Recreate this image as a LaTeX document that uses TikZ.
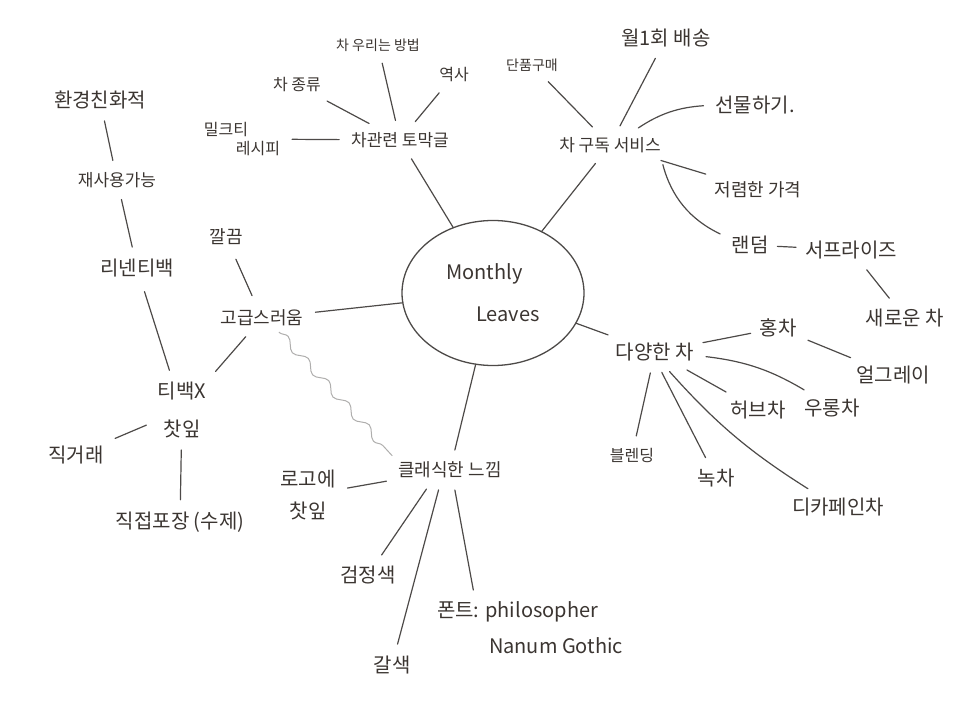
\documentclass[tikz,border=0pt]{standalone}
\usepackage{fontspec}
\setmainfont{Noto Sans CJK KR}
\usetikzlibrary{shapes.geometric,decorations.pathmorphing}
\definecolor{ink}{HTML}{3B3531}
\definecolor{pencil}{HTML}{4D4A48}
\tikzset{
  lbl/.style={font=\fontsize{20}{24}\selectfont, text=ink, inner sep=1pt, outer sep=5pt},
  mid/.style={font=\fontsize{18}{22}\selectfont},
  branch/.style={font=\fontsize{17}{21}\selectfont},
  small/.style={font=\fontsize{16}{19}\selectfont},
  link/.style={draw=pencil, line width=1.2pt, line cap=round,
    shorten <=6pt, shorten >=6pt},
  wave/.style={draw=pencil!45, line width=1pt, decorate,
    decoration={snake, segment length=30pt, amplitude=4pt}},
}
\begin{document}
\begin{tikzpicture}[x=1pt,y=-1pt]
  \useasboundingbox (0,0) rectangle (961,714);
  \node[draw=pencil, line width=1.3pt, ellipse, minimum width=182pt,
    minimum height=145pt, outer sep=0pt] (hub) at (493,293) {};
  \node[lbl, font=\fontsize{20}{42}\selectfont, align=left] (hubtext)
    at (hub.center) {Monthly\\\hspace*{1.5em}Leaves};
  \path[every node/.style=lbl]
    (400,140) node[branch] (topics){차관련 토막글}
    (242,139) node[small, align=left] (recipe){밀크티\\\hspace*{2em}레시피}
    (297,85) node[small] (kinds){차 종류}
    (378,45) node[small, font=\fontsize{14}{17}\selectfont] (brew){차 우리는 방법}
    (454,75) node[small] (history){역사}
    (610,145) node[branch] (subs){차 구독 서비스}
    (532,65) node[small, font=\fontsize{14}{17}\selectfont] (single){단품구매}
    (666,38) node (monthly){월1회 배송}
    (755,105) node (gift){선물하기.}
    (758,190) node[mid] (cheap){저렴한 가격}
    (750,245) node (random){랜덤}
    (851,250) node (surprise){서프라이즈}
    (905,318) node (newtea){새로운 차}
    (655,352) node (variety){다양한 차}
    (778,328) node (blacktea){홍차}
    (893,375) node (earl){얼그레이}
    (758,410) node (herb){허브차}
    (832,408) node (oolong){우롱차}
    (632,455) node[small] (blend){블렌딩}
    (716,478) node (green){녹차}
    (838,507) node (decaf){디카페인차}
    (450,470) node[mid] (classic){클래식한 느낌}
    (308,495) node[align=center] (logo){로고에\\[8pt]찻잎}
    (368,575) node (black){검정색}
    (392,665) node (brown){갈색}
    (530,628) node[align=left] (fonts){폰트: philosopher\\[12pt]\hspace*{2.6em}Nanum Gothic}
    (262,318) node[mid] (luxury){고급스러움}
    (226,237) node[mid] (neat){깔끔}
    (117,180) node[font=\fontsize{17}{20}\selectfont] (reuse){재사용가능}
    (137,268) node (linen){리넨티백}
    (100,100) node (eco){환경친화적}
    (182,410) node[align=center] (leaf){티백X\\[14pt]찻잎}
    (76,455) node (direct){직거래}
    (180,522) node (pack){직접포장 (수제)};
  \begin{scope}[every path/.style=link]
    % branches from the hub
    \draw[shorten <=0pt] (hub) to (topics);
    \draw[shorten <=0pt] (hub) to (subs);
    \draw[shorten <=0pt] (hub) to (luxury);
    \draw[shorten <=0pt] (hub) to (variety);
    \draw[shorten <=0pt] (hub) to (classic);
    % tea notes
    \draw (topics) to (recipe);
    \draw (topics) to (kinds);
    \draw (topics) to (brew);
    \draw (topics) to (history);
    % subscription
    \draw (subs) to (single);
    \draw (subs) to (monthly);
    \draw (subs) to[bend left=15] (gift);
    \draw (subs) to (cheap);
    \draw (subs.-15) to[bend right=25] (random);
    \draw[shorten <=3pt, shorten >=3pt] (random) to (surprise);
    \draw (surprise) to (newtea);
    % teas
    \draw[shorten <=3pt, shorten >=3pt] (variety) to (blacktea);
    \draw (blacktea) to (earl);
    \draw (variety) to (herb);
    \draw (variety.-5) to[bend left=12] (oolong);
    \draw (variety) to (blend);
    \draw (variety.-75) to (green);
    \draw (variety.-55) to[bend right=8] (decaf);
    % classic look
    \draw (classic) to (logo);
    \draw (classic.-145) to (black);
    \draw (classic.-125) to (brown);
    \draw (classic.-75) to (fonts.150);
    % luxury
    \draw[shorten <=9pt, shorten >=9pt] (luxury) to (neat);
    \draw (luxury) to (leaf);
    \draw[shorten <=9pt] (linen) to (leaf);
    \draw (linen) to (reuse);
    \draw (reuse) to (eco);
    \draw (leaf) to (direct);
    \draw (leaf) to (pack);
  \end{scope}
  \draw[wave] (luxury.-40) to (classic.north west);
\end{tikzpicture}
\end{document}
